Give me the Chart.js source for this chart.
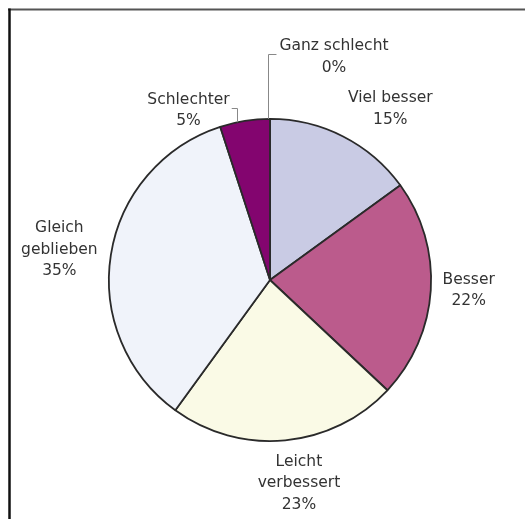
<!DOCTYPE html>
<html>
<head>
<meta charset="utf-8">
<script src="https://cdn.jsdelivr.net/npm/chart.js@4/dist/chart.umd.min.js"></script>
<style>
  html, body { margin: 0; padding: 0; background: #fff; }
  canvas { display: block; }
</style>
</head>
<body>
<canvas id="pie" width="525" height="519"></canvas>
<script>
// Antworten in Prozent, im Uhrzeigersinn ab 12 Uhr
const categories = [['Viel besser'], ['Besser'], ['Leicht', 'verbessert'], ['Gleich', 'geblieben'], ['Schlechter'], ['Ganz schlecht']];
const percents = [15, 22, 23, 35, 5, 0];
const sliceColors = ['#c9cbe4', '#bb5b8c', '#fafae6', '#f0f3fa', '#83056f', '#777777'];

// label nudges relative to the radial anchor point
const labelNudge = [[29, 8], [-2, -2], [10, 3], [-12, 1], [-50, 29], [64, -22]];

const framePlugin = {
  id: 'frame',
  beforeDraw(chart) {
    const c = chart.ctx;
    c.save();
    c.strokeStyle = '#555';
    c.lineWidth = 2;
    c.beginPath();
    c.moveTo(8, 9.5);
    c.lineTo(525, 9.5);
    c.stroke();
    c.strokeStyle = '#111';
    c.lineWidth = 2.5;
    c.beginPath();
    c.moveTo(9.5, 8.5);
    c.lineTo(9.5, 519);
    c.stroke();
    c.restore();
  }
};

const labelPlugin = {
  id: 'outLabels',
  afterDatasetsDraw(chart) {
    const c = chart.ctx;
    const meta = chart.getDatasetMeta(0);
    c.save();
    c.font = '15.5px "DejaVu Sans", sans-serif';
    c.fillStyle = '#333';
    c.textAlign = 'center';
    c.textBaseline = 'middle';
    const lh = 21.5;
    meta.data.forEach((arc, i) => {
      const p = arc.getProps(['x', 'y', 'startAngle', 'endAngle', 'outerRadius'], true);
      const mid = (p.startAngle + p.endAngle) / 2;
      const r = p.outerRadius + 40;
      const lines = categories[i].concat([percents[i] + '%']);
      const cx = p.x + Math.cos(mid) * r + labelNudge[i][0];
      const cy = p.y + Math.sin(mid) * r + labelNudge[i][1];
      const top = cy - (lines.length - 1) * lh / 2;
      lines.forEach((t, k) => c.fillText(t, cx, top + k * lh));

      // leader lines for the small slices
      if (percents[i] <= 5) {
        const w = c.measureText(lines[0]).width;
        c.strokeStyle = '#888';
        c.lineWidth = 1;
        c.beginPath();
        const ly = Math.round(top + 8) + 0.5;
        if (percents[i] === 0) {
          const sx = Math.round(p.x + Math.cos(p.startAngle) * p.outerRadius) - 1.5;
          const sy = p.y + Math.sin(p.startAngle) * p.outerRadius;
          c.moveTo(sx, sy);
          c.lineTo(sx, ly);
          c.lineTo(cx - w / 2 - 3, ly);
        } else {
          const ex = Math.round(cx + w / 2 + 7) + 0.5;
          const dy = Math.sqrt(p.outerRadius * p.outerRadius - (ex - p.x) * (ex - p.x));
          c.moveTo(ex, p.y - dy);
          c.lineTo(ex, ly);
          c.lineTo(cx + w / 2 + 2, ly);
        }
        c.stroke();
      }
    });
    c.restore();
  }
};

new Chart(document.getElementById('pie').getContext('2d'), {
  type: 'pie',
  data: {
    labels: categories,
    datasets: [{
      data: percents,
      backgroundColor: sliceColors,
      borderColor: '#2a2a2a',
      borderWidth: 1.8
    }]
  },
  options: {
    responsive: false,
    animation: false,
    layout: { padding: { left: 108, right: 93, top: 118, bottom: 77 } },
    plugins: {
      legend: { display: false },
      tooltip: { enabled: false }
    }
  },
  plugins: [framePlugin, labelPlugin]
});
</script>
</body>
</html>
